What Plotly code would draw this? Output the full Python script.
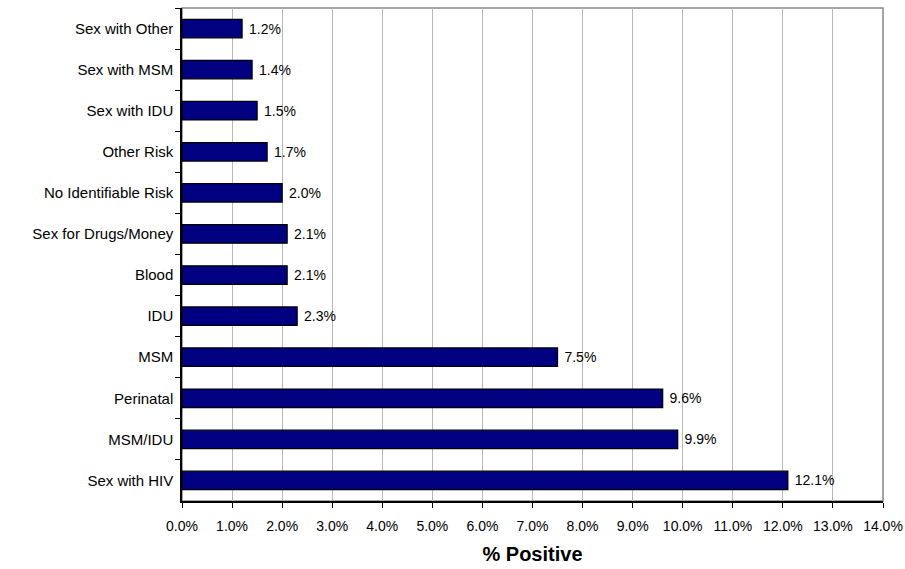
import plotly.graph_objects as go

categories = ["Sex with Other", "Sex with MSM", "Sex with IDU", "Other Risk",
              "No Identifiable Risk", "Sex for Drugs/Money", "Blood", "IDU",
              "MSM", "Perinatal", "MSM/IDU", "Sex with HIV"]
values = [1.2, 1.4, 1.5, 1.7, 2.0, 2.1, 2.1, 2.3, 7.5, 9.6, 9.9, 12.1]
tick_vals = list(range(0, 15))
tick_text = [f"{v:.1f}%" for v in tick_vals]

FONT = "Liberation Sans, Arial"

fig = go.Figure(go.Bar(
    x=values, y=categories, orientation="h",
    marker=dict(color="#000080", line=dict(color="black", width=1.2)),
    text=[f" {v:.1f}%" for v in values], textposition="outside",
    textfont=dict(family=FONT, size=14, color="black"),
    cliponaxis=False, width=0.45,
))

fig.update_layout(
    width=905, height=569,
    margin=dict(l=182, r=22, t=8, b=68, autoexpand=False),
    paper_bgcolor="white", plot_bgcolor="white",
    font=dict(family=FONT, size=14, color="black"),
    showlegend=False,
    shapes=[dict(type="rect", xref="paper", yref="paper", x0=0, x1=1, y0=0, y1=1,
                 line=dict(color="#888888", width=1.5), layer="below")],
)
fig.update_xaxes(
    range=[0, 14], tickvals=tick_vals, ticktext=tick_text,
    showgrid=True, gridcolor="#b8b8b8", gridwidth=1,
    showline=True, linecolor="black", linewidth=1.5,
    ticks="outside", ticklen=5, tickcolor="black",
    zeroline=False, ticklabelstandoff=6, automargin=False,
    title=dict(text="<b>% Positive</b>", font=dict(size=20, family=FONT), standoff=14),
    tickfont=dict(size=14),
)
fig.update_yaxes(
    autorange="reversed", categoryorder="array", categoryarray=categories,
    showline=True, linecolor="black", linewidth=1.5,
    ticks="outside", ticklen=5, tickcolor="black", tickson="boundaries",
    showgrid=False, tickfont=dict(size=15), ticklabelstandoff=4, automargin=False,
)

fig.write_html("out.html")
